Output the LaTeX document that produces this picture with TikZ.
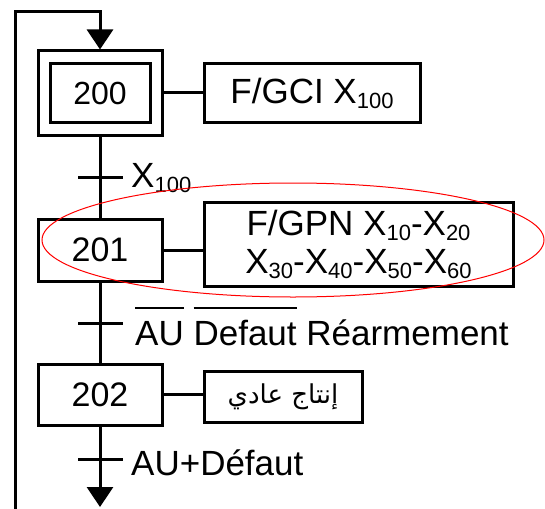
\documentclass[tikz,border=0pt]{standalone}
\usepackage{fontspec}
\setmainfont{Liberation Sans}
\newfontfamily\arabicfont[Script=Arabic]{DejaVu Sans}
\TeXXeTstate=1
\usetikzlibrary{arrows.meta}
\newsavebox{\myolbox}
\newcommand\olin[1]{\sbox{\myolbox}{#1}\rlap{\raisebox{36pt}{\rule{\wd\myolbox}{2.5pt}}}\usebox{\myolbox}}
\newcommand\sbs[1]{\raisebox{-5pt}{\fontsize{22}{22}\selectfont #1}}
\tikzset{
  grafline/.style={line width=3pt},
  stepbox/.style={draw, line width=3pt, inner sep=0pt, font=\fontsize{34}{40}\selectfont},
  actbox/.style={draw, line width=3pt, inner sep=0pt, font=\fontsize{35}{40}\selectfont, align=center},
  trbar/.style={fill=black, inner sep=0pt, minimum width=45pt, minimum height=3pt},
  trlabel/.style={anchor=base west, inner sep=0pt, font=\fontsize{35}{40}\selectfont},
}
\begin{document}
\begin{tikzpicture}[x=1pt,y=-1pt]
\useasboundingbox (0,0) rectangle (545,508);
% steps
\node[stepbox, minimum width=124pt, minimum height=84pt] (s200o) at (100,93) {};
\node[stepbox, minimum width=100pt, minimum height=58pt, font=\fontsize{32}{36}\selectfont] (s200) at (100,93) {200};
\node[stepbox, minimum width=124pt, minimum height=62pt] (s201) at (100,250) {201};
\node[stepbox, minimum width=124pt, minimum height=61pt] (s202) at (100,394.5) {202};
% actions
\node[actbox, minimum width=216pt, minimum height=58pt] (a200) at (312,93) {F/GCI X\sbs{100}};
\node[actbox, minimum width=309pt, minimum height=84pt] (a201) at (358.5,244)
  {F/GPN X\sbs{10}-X\sbs{20}\\[-2pt] X\sbs{30}-X\sbs{40}-X\sbs{50}-X\sbs{60}};
\node[actbox, minimum width=158pt, minimum height=51pt, font=\fontsize{26}{30}\arabicfont] (a202) at (283,396.5)
  {\beginR إنتاج عادي\endR};
% links
\draw[grafline] (s200o.south) -- (s201.north);
\draw[grafline] (s201.south) -- (s202.north);
\draw[grafline] (s200o.east) -- (a200.west);
\draw[grafline] (s201.east) -- (s201.east -| a201.west);
\draw[grafline] (s202.east) -- (s202.east -| a202.west);
\coordinate (lb) at (15.5,510);
\coordinate (lt) at (15.5,12);
\coordinate (bend) at (100,507);
\draw[grafline, line cap=rect, -{Triangle[width=26pt,length=20pt]}] (lb) -- (lt) -| (s200o.north);
\draw[grafline, -{Triangle[width=26pt,length=20pt]}] (s202.south) -- (bend);
% transitions
\node[trbar] (t1) at (100.5,177) {};
\node[trbar] (t2) at (100.5,323) {};
\node[trbar] (t3) at (100.5,459) {};
\node[trlabel] (l1) at (131,187) {X\sbs{100}};
\node[trlabel] (l2) at (135,345) {\olin{AU} \olin{Defaut} Réarmement};
\node[trlabel] (l3) at (131,475) {AU+Défaut};
% highlight
\draw[red, line width=1pt] (293,240) ellipse [x radius=251pt, y radius=57pt];
\end{tikzpicture}
\end{document}
